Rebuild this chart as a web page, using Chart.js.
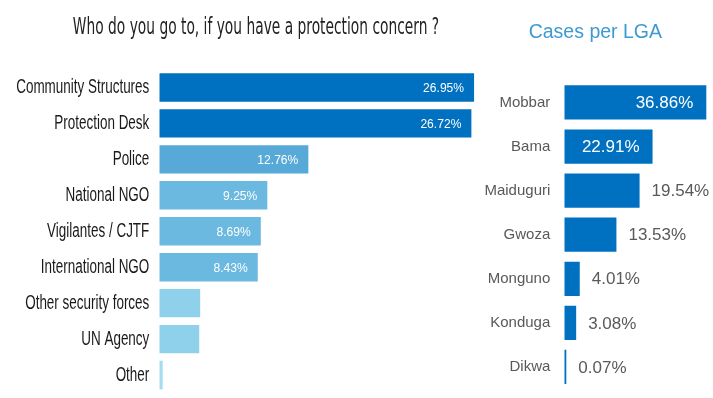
<!DOCTYPE html>
<html>
<head>
<meta charset="utf-8">
<script src="https://cdn.jsdelivr.net/npm/chart.js@4.4.1/dist/chart.umd.min.js"></script>
<style>
  html, body { margin: 0; padding: 0; background: #fff; overflow: hidden; width: 713px; height: 398px; }
  #leftBox { position: absolute; left: 0; top: 0; width: 481px; height: 398px; }
  #rightBox { position: absolute; left: 480px; top: 0; width: 233px; height: 412px; }
</style>
</head>
<body>
<div id="leftBox"><canvas id="contactChart"></canvas></div>
<div id="rightBox"><canvas id="lgaChart"></canvas></div>
<script>
// who people go to
const contactTitle = "Who do you go to, if you have a protection concern ?";
const contactLabels = ["Community Structures", "Protection Desk", "Police", "National NGO",
    "Vigilantes / CJTF", "International NGO", "Other security forces", "UN Agency", "Other"];
const contactValues = [26.95, 26.72, 12.76, 9.25, 8.69, 8.43, 3.5, 3.42, 0.29];
const contactColors = ["#0070C0", "#0070C0", "#57A9D8", "#6BB8E0", "#6BB8E0", "#6BB8E0",
    "#8FD0EA", "#8FD0EA", "#A4DCF2"];

// cases per LGA
const lgaLabels = ["Mobbar", "Bama", "Maiduguri", "Gwoza", "Monguno", "Konduga", "Dikwa"];
const lgaValues = [36.86, 22.91, 19.54, 13.53, 4.01, 3.08, 0.07];

const arial = "'Liberation Sans', Arial, sans-serif";
const dejavu = "'DejaVu Sans', sans-serif";

// draw text squeezed horizontally (the original uses a narrow font)
function squeezed(ctx, text, x, y, sx) {
    ctx.save();
    ctx.translate(x, y);
    ctx.scale(sx, 1);
    ctx.fillText(text, 0, 0);
    ctx.restore();
}

// draws the % text on each bar
function valueLabels(opts) {
    return {
        id: "valueLabels",
        afterDatasetsDraw(chart) {
            const ctx = chart.ctx;
            const meta = chart.getDatasetMeta(0);
            const values = chart.data.datasets[0].data;
            ctx.save();
            ctx.font = opts.font;
            ctx.textBaseline = "middle";
            meta.data.forEach((bar, i) => {
                const v = values[i];
                if (v < opts.minShow) return;
                const text = v.toFixed(2) + "%";
                if (v >= opts.insideFrom) {
                    ctx.fillStyle = "#ffffff";
                    ctx.textAlign = "right";
                    squeezed(ctx, text, bar.x - opts.inPad, bar.y + 1, opts.sx);
                } else {
                    ctx.fillStyle = opts.outColor;
                    ctx.textAlign = "left";
                    squeezed(ctx, text, bar.x + opts.outPad, bar.y + 1, opts.sx);
                }
            });
            ctx.restore();
        }
    };
}

// narrow category names + title for the left chart
const narrowText = {
    id: "narrowText",
    afterDraw(chart) {
        const ctx = chart.ctx;
        const ys = chart.scales.y;
        ctx.save();
        ctx.fillStyle = "#1a1a1a";
        ctx.textAlign = "right";
        ctx.textBaseline = "middle";
        ctx.font = "19.5px " + arial;
        contactLabels.forEach((lab, i) => {
            squeezed(ctx, lab, ys.right - 10, ys.getPixelForTick(i) + 0.5, 0.69);
        });
        ctx.textAlign = "center";
        ctx.textBaseline = "alphabetic";
        ctx.font = "23px " + dejavu;
        ctx.fillStyle = "#222";
        squeezed(ctx, contactTitle, 256, 34, 0.6);
        ctx.restore();
    }
};

new Chart(document.getElementById("contactChart"), {
    type: "bar",
    data: {
        labels: contactLabels,
        datasets: [{
            data: contactValues,
            backgroundColor: contactColors,
            barPercentage: 0.79,
            categoryPercentage: 1
        }]
    },
    options: {
        indexAxis: "y",
        responsive: true,
        maintainAspectRatio: false,
        animation: false,
        layout: { padding: { left: 0, right: 0.5, top: 69.5, bottom: 5 } },
        plugins: {
            legend: { display: false },
            tooltip: { enabled: false },
            title: { display: false }
        },
        scales: {
            x: {
                display: false,
                min: 0,
                max: 27.5
            },
            y: {
                grid: { display: false, drawTicks: false },
                border: { display: false },
                ticks: { display: false },
                afterFit(scale) { scale.width = 159.3; }
            }
        }
    },
    plugins: [narrowText, valueLabels({
        font: "13px " + arial, sx: 0.93, minShow: 5, insideFrom: 5, inPad: 10, outPad: 10, outColor: "#1a1a1a"
    })]
});

new Chart(document.getElementById("lgaChart"), {
    type: "bar",
    data: {
        labels: lgaLabels,
        datasets: [{
            data: lgaValues,
            backgroundColor: "#0070C0",
            barPercentage: 0.776,
            categoryPercentage: 1,
            minBarLength: 2
        }]
    },
    options: {
        indexAxis: "y",
        responsive: true,
        maintainAspectRatio: false,
        animation: false,
        layout: { padding: { left: 0, right: 2.3, top: 0, bottom: 2 } },
        plugins: {
            legend: { display: false },
            tooltip: { enabled: false },
            title: {
                display: true,
                text: "Cases per LGA",
                color: "#3D9AD3",
                font: { family: arial, size: 19.5, weight: "normal" },
                padding: { top: 21, bottom: 36 }
            }
        },
        scales: {
            x: {
                display: false,
                min: 0,
                max: 38
            },
            y: {
                grid: { display: false, drawTicks: false },
                border: { display: false },
                ticks: {
                    color: "#595959",
                    padding: 14,
                    font: { family: arial, size: 15 }
                },
                afterFit(scale) { scale.width = 84.3; }
            }
        }
    },
    plugins: [valueLabels({
        font: "17px " + arial, sx: 1, minShow: 0, insideFrom: 20, inPad: 13, outPad: 12, outColor: "#595959"
    })]
});
</script>
</body>
</html>
